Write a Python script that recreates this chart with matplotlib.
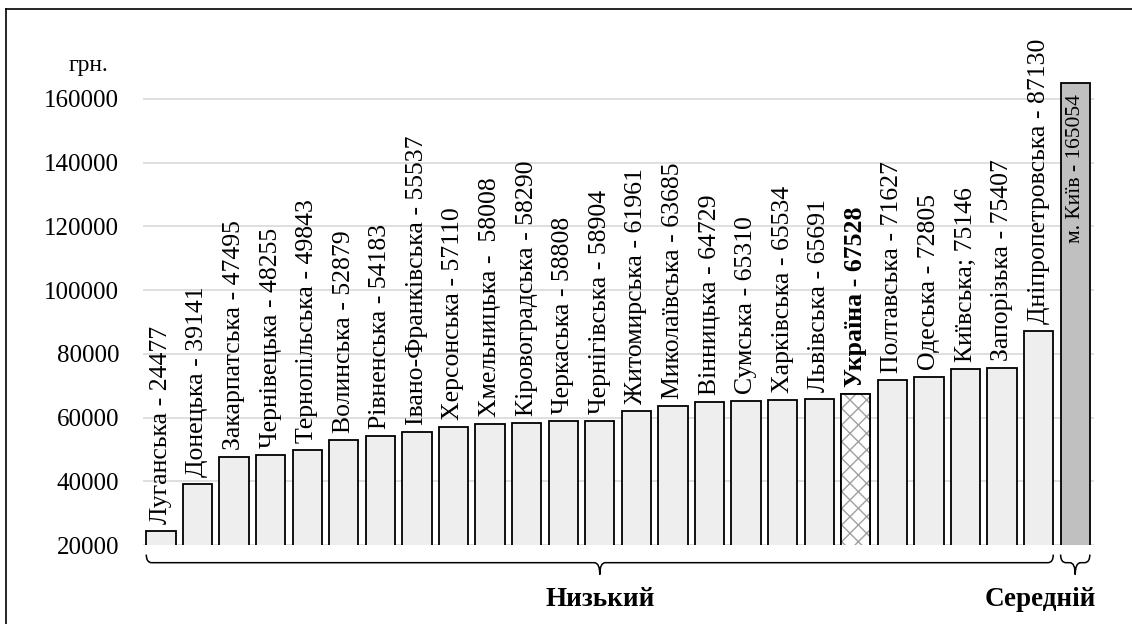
import matplotlib
matplotlib.use('Agg')
from matplotlib import pyplot as plt
import matplotlib.patches as mpatches
import matplotlib.transforms as mtransforms
from matplotlib.path import Path
from matplotlib.lines import Line2D

regions = ['Луганська', 'Донецька', 'Закарпатська', 'Чернівецька', 'Тернопільська',
           'Волинська', 'Рівненська', 'Івано-Франківська', 'Херсонська', 'Хмельницька',
           'Кіровоградська', 'Черкаська', 'Чернігівська', 'Житомирська', 'Миколаївська',
           'Вінницька', 'Сумська', 'Харківська', 'Львівська', 'Україна', 'Полтавська',
           'Одеська', 'Київська', 'Запорізька', 'Дніпропетровська', 'м. Київ']
values = [24477, 39141, 47495, 48255, 49843, 52879, 54183, 55537, 57110, 58008,
          58290, 58808, 58904, 61961, 63685, 64729, 65310, 65534, 65691, 67528,
          71627, 72805, 75146, 75407, 87130, 165054]
separators = [' - '] * 26
separators[9] = ' -  '
separators[22] = '; '
yticks = [20000, 40000, 60000, 80000, 100000, 120000, 140000, 160000]
groups = [('Низький', 0, 24), ('Середній', 25, 25)]

plt.rcParams['font.family'] = ['Liberation Serif', 'DejaVu Serif']
plt.rcParams['hatch.linewidth'] = 1.0

fig = plt.figure(figsize=(11.32, 6.24), dpi=100)
ax = fig.add_axes([0.126, 0.1266, 0.840, 0.766])

w = 0.8
x = list(range(len(values)))
ukr = regions.index('Україна')
kyiv = regions.index('м. Київ')

colors = ['#eeeeee'] * len(values)
colors[kyiv] = '#c0c0c0'
colors[ukr] = 'white'
ax.bar(x, values, width=w, color=colors, edgecolor='black', linewidth=1.3, zorder=3)
# hatch for Ukraine
ax.bar([ukr], [values[ukr]], width=w, color='white', edgecolor='#a0a0a0',
       hatch='xx', linewidth=0, zorder=3)
ax.bar([ukr], [values[ukr]], width=w, color='none', edgecolor='black',
       linewidth=1.3, zorder=4)

for i, (name, v) in enumerate(zip(regions, values)):
    label = name + separators[i] + str(v)
    if i == kyiv:
        ax.text(i, v - 3500, label, rotation=90, ha='center', va='top',
                fontsize=15.5, zorder=5)
    else:
        ax.text(i, v + 2200, label, rotation=90, ha='center', va='bottom',
                fontsize=18.5, zorder=5,
                fontweight='bold' if i == ukr else 'normal')

ax.set_xlim(-0.5, len(values) - 0.5)
ax.set_ylim(20000, 170000)
ax.set_yticks(yticks)
ax.set_yticklabels([str(t) for t in yticks], fontsize=18)
ax.set_xticks([])
ax.tick_params(axis='y', length=0, pad=17)
for s in ax.spines.values():
    s.set_visible(False)
ax.yaxis.grid(True, color='#d9d9d9', linewidth=1.2, zorder=0)
ax.set_axisbelow(True)

fig.text(88 / 1132, 1 - 66 / 624, 'грн.', fontsize=17, ha='center', va='center')

# braces under groups
trans = mtransforms.blended_transform_factory(ax.transData, ax.transAxes)
yt, ym, yb = -0.020, -0.037, -0.062
r = 0.15
for name, a, b in groups:
    x0 = a - w / 2
    x1 = b + w / 2
    xc = (x0 + x1) / 2
    verts = [(x0, yt), (x0, ym), (x0 + r, ym), (xc - r, ym), (xc, ym), (xc, yb),
             (xc, ym), (xc + r, ym), (x1 - r, ym), (x1, ym), (x1, yt)]
    codes = [Path.MOVETO, Path.CURVE3, Path.CURVE3, Path.LINETO, Path.CURVE3, Path.CURVE3,
             Path.CURVE3, Path.CURVE3, Path.LINETO, Path.CURVE3, Path.CURVE3]
    patch = mpatches.PathPatch(Path(verts, codes), facecolor='none', edgecolor='black',
                               linewidth=1.1, transform=trans, clip_on=False)
    ax.add_patch(patch)
    lx = xc if name != 'Середній' else 24.05
    ax.text(lx, -0.115, name, transform=trans, ha='center', va='center',
            fontsize=19.5, fontweight='bold')

# frame lines
fig.add_artist(Line2D([6 / 1132, 6 / 1132], [0, 1 - 9 / 624], color='black', linewidth=1.2))
fig.add_artist(Line2D([6 / 1132, 1], [1 - 9 / 624, 1 - 9 / 624], color='black', linewidth=1.2))

fig.savefig('out.png', dpi=100)
